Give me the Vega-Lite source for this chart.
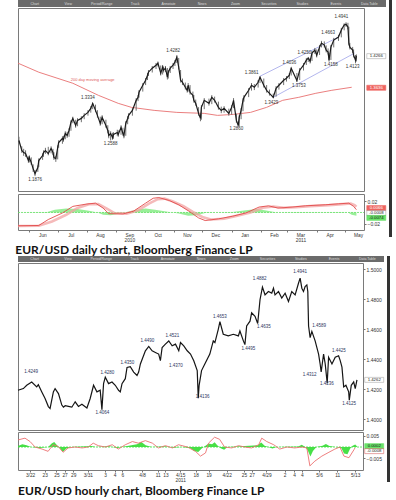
{
"$schema":"https://vega.github.io/schema/vega-lite/v6.json",
"background":"white",
"padding":{"left":12,"top":0,"right":0,"bottom":0},
"config":{"view":{"stroke":"#7a7a7a","strokeWidth":1},"axis":{"labelFont":"Liberation Sans","labelFontSize":5,"labelColor":"#333333","tickColor":"#777777","tickSize":2,"labelPadding":1,"grid":false,"domain":false},"title":{"font":"Lato","fontSize":12,"fontWeight":"bold","color":"#111111"},"text":{"font":"Liberation Sans"}},
"spacing":0,
"vconcat":[
{
"title":{"text":"EUR/USD daily chart, Bloomberg Finance LP","orient":"bottom","anchor":"start","offset":2,"dx":3},
"spacing":0,
"hconcat":[
{"spacing":0,"vconcat":[
{"width":368,"height":7,"data":{"name":"tb"},"view":{"fill":"#6b6b6b","stroke":null},"mark":{"type":"text","fontSize":3.5,"color":"#dddddd"},"encoding":{"x":{"field":"i","type":"ordinal","axis":null},"text":{"field":"t"}}},
{"width":346,"height":183,"view":{"fill":"white"},
"encoding":{
"x":{"field":"d","type":"temporal","title":null,"scale":{"type":"utc","domain":[{"year":2010,"month":5,"date":20,"utc":true},{"year":2011,"month":5,"date":21,"utc":true}]},"axis":null},
"y":{"field":"v","type":"quantitative","title":null,"scale":{"domain":[1.158,1.5225],"nice":false,"zero":false},"axis":{"orient":"right","values":[1.2,1.25,1.3,1.35,1.4,1.45,1.5],"format":".4f"}}},
"layer":[
{"data":{"name":"ma"},"mark":{"type":"line","color":"#e87070","strokeWidth":0.9}},
{"data":{"name":"chan"},"mark":{"type":"line","color":"#a0a3e8","strokeWidth":0.8},"encoding":{"detail":{"field":"s"}}},
{"data":{"name":"daily"},"mark":{"type":"rule","color":"#707070","strokeWidth":1},"encoding":{"y":{"field":"l","type":"quantitative","title":null,"scale":{"domain":[1.158,1.5225],"nice":false,"zero":false},"axis":null},"y2":{"field":"h"}}},
{"data":{"name":"daily"},"mark":{"type":"line","color":"#1c1c1c","strokeWidth":1.2}},
{"data":{"name":"dlab"},"mark":{"type":"text","fontSize":4.5,"color":"#333333"},"encoding":{"text":{"field":"t"}}},
{"data":{"values":[{"d":"2010-08-07","v":1.3786,"t":"200 day moving average"}]},"mark":{"type":"text","fontSize":4,"color":"#e05a5a"},"encoding":{"text":{"field":"t"}}},
{"data":{"name":"pbox1"},"mark":{"type":"tick","orient":"horizontal","size":19,"thickness":5,"strokeWidth":0.6,"clip":false},"encoding":{"color":{"field":"k","type":"nominal","legend":null,"scale":{"domain":["w","r","g","o"],"range":["#ffffff","#e8231d","#2bd62b","#ffffff"]}},"stroke":{"field":"k","type":"nominal","legend":null,"scale":{"domain":["w","r","g","o"],"range":["#8a8a8a","#e8231d","#2bd62b","#c62828"]}}}},
{"data":{"name":"pbox1"},"mark":{"type":"text","fontSize":4.3,"clip":false},"encoding":{"text":{"field":"t"},"fill":{"field":"k","type":"nominal","legend":null,"scale":{"domain":["w","r","g","o"],"range":["#222222","#ffffff","#111111","#222222"]}}}}
]},
{"width":346,"height":36,"view":{"fill":"white"},
"encoding":{
"x":{"field":"d","type":"temporal","title":null,"scale":{"type":"utc","domain":[{"year":2010,"month":5,"date":20,"utc":true},{"year":2011,"month":5,"date":21,"utc":true}]},"axis":{"tickCount":{"interval":"month","step":1},"format":"%b","labelOffset":13,"labelOverlap":false,"labelBound":false,"labelFlush":false,"labelPadding":0,"labelFontSize":4.8,"labelLineHeight":5.4,"labelExpr":"utcmonth(datum.value)==8 && utcyear(datum.value)==2010 ? ['Sep','2010'] : (utcmonth(datum.value)==2 && utcyear(datum.value)==2011 ? ['Mar','2011'] : datum.label)"}},
"y":{"field":"v","type":"quantitative","title":null,"scale":{"domain":[-0.031,0.0327],"nice":false,"zero":false},"axis":{"orient":"right","values":[-0.02,0.02],"format":".2f"}}},
"layer":[
{"data":{"name":"hist"},"mark":{"type":"area","color":"#86ec86","opacity":0.85},"encoding":{"y2":{"datum":0}}},
{"data":{"values":[{"d":"2010-05-20","d2":"2011-05-21","v":0}]},"mark":{"type":"rule","color":"#66dd66","strokeWidth":0.8,"strokeDash":[2,1]},"encoding":{"x2":{"field":"d2"}}},
{"data":{"name":"sig"},"mark":{"type":"line","color":"#f2a3a3","strokeWidth":2.6,"opacity":0.75}},
{"data":{"name":"macd"},"mark":{"type":"line","color":"#e24a4a","strokeWidth":0.9}},
{"data":{"name":"mbox1"},"mark":{"type":"tick","orient":"horizontal","size":19,"thickness":5,"strokeWidth":0.6,"clip":false},"encoding":{"color":{"field":"k","type":"nominal","legend":null,"scale":{"domain":["w","r","g","o"],"range":["#ffffff","#e8231d","#2bd62b","#ffffff"]}},"stroke":{"field":"k","type":"nominal","legend":null,"scale":{"domain":["w","r","g","o"],"range":["#8a8a8a","#e8231d","#2bd62b","#c62828"]}}}},
{"data":{"name":"mbox1"},"mark":{"type":"text","fontSize":4.3,"clip":false},"encoding":{"text":{"field":"t"},"fill":{"field":"k","type":"nominal","legend":null,"scale":{"domain":["w","r","g","o"],"range":["#222222","#ffffff","#111111","#222222"]}}}}
]}
]},
{"width":3,"height":237,"data":{"values":[{"a":1}]},"view":{"fill":"#333333","stroke":null},"mark":{"type":"point","opacity":0},"encoding":{}}
]
},
{
"title":{"text":"EUR/USD hourly chart, Bloomberg Finance LP","orient":"bottom","anchor":"start","offset":3,"dx":3},
"spacing":0,
"hconcat":[
{"spacing":0,"vconcat":[
{"width":366,"height":6,"data":{"name":"tb"},"view":{"fill":"#6b6b6b","stroke":null},"mark":{"type":"text","fontSize":3.5,"color":"#dddddd"},"encoding":{"x":{"field":"i","type":"ordinal","axis":null},"text":{"field":"t"}}},
{"width":345,"height":167,"view":{"fill":"white"},
"encoding":{
"x":{"field":"d","type":"quantitative","title":null,"scale":{"domain":[0,40],"nice":false,"zero":false},"axis":null},
"y":{"field":"v","type":"quantitative","title":null,"scale":{"domain":[1.3928,1.5041],"nice":false,"zero":false},"axis":{"orient":"right","values":[1.4,1.42,1.44,1.46,1.48,1.5],"format":".4f"}}},
"layer":[
{"data":{"name":"hourly"},"mark":{"type":"line","color":"#151515","strokeWidth":1.2}},
{"data":{"name":"hlab"},"mark":{"type":"text","fontSize":4.5,"color":"#2d3560"},"encoding":{"text":{"field":"t"}}},
{"data":{"name":"hbox"},"mark":{"type":"tick","orient":"horizontal","size":19,"thickness":5,"strokeWidth":0.6,"clip":false},"encoding":{"color":{"field":"k","type":"nominal","legend":null,"scale":{"domain":["w","r","g","o"],"range":["#ffffff","#e8231d","#2bd62b","#ffffff"]}},"stroke":{"field":"k","type":"nominal","legend":null,"scale":{"domain":["w","r","g","o"],"range":["#8a8a8a","#e8231d","#2bd62b","#c62828"]}}}},
{"data":{"name":"hbox"},"mark":{"type":"text","fontSize":4.3,"clip":false},"encoding":{"text":{"field":"t"},"fill":{"field":"k","type":"nominal","legend":null,"scale":{"domain":["w","r","g","o"],"range":["#222222","#ffffff","#111111","#222222"]}}}}
]},
{"width":345,"height":38,"view":{"fill":"white"},
"encoding":{
"x":{"field":"d","type":"quantitative","title":null,"scale":{"domain":[0,40],"nice":false,"zero":false},"axis":{"values":[1.4,3.1,4.45,5.4,6.4,8.1,10.1,11.2,12.1,14.4,16.2,17.1,18.8,20.6,22.1,24.2,26.2,27.1,28.8,30.9,32,32.9,34.9,37,39.1],"labelOverlap":false,"labelBound":false,"labelFlush":false,"labelPadding":0,"labelFontSize":4.8,"labelLineHeight":5.4,"labelExpr":"['3/22','23','25','27','29','3/31','3','4','6','4/8','11','13',['4/15','2011'],'18','19','4/22','25','27','4/29','2','4','4','5/6','11','5/13'][indexof([1.4,3.1,4.45,5.4,6.4,8.1,10.1,11.2,12.1,14.4,16.2,17.1,18.8,20.6,22.1,24.2,26.2,27.1,28.8,30.9,32,32.9,34.9,37,39.1], datum.value)]"}},
"y":{"field":"v","type":"quantitative","title":null,"scale":{"domain":[-0.0101,0.0066],"nice":false,"zero":false},"axis":{"orient":"right","values":[-0.005,0.005],"format":".3f"}}},
"layer":[
{"data":{"name":"hhist"},"mark":{"type":"area","color":"#33dd33","opacity":0.9},"encoding":{"y2":{"datum":0}}},
{"data":{"values":[{"d":0,"d2":40,"v":0}]},"mark":{"type":"rule","color":"#44dd44","strokeWidth":0.8,"strokeDash":[2,1]},"encoding":{"x2":{"field":"d2"}}},
{"data":{"name":"hmacd"},"mark":{"type":"line","color":"#ec7070","strokeWidth":0.9}},
{"data":{"name":"ibox"},"mark":{"type":"tick","orient":"horizontal","size":19,"thickness":5,"strokeWidth":0.6,"clip":false},"encoding":{"color":{"field":"k","type":"nominal","legend":null,"scale":{"domain":["w","r","g","o"],"range":["#ffffff","#e8231d","#2bd62b","#ffffff"]}},"stroke":{"field":"k","type":"nominal","legend":null,"scale":{"domain":["w","r","g","o"],"range":["#8a8a8a","#e8231d","#2bd62b","#c62828"]}}}},
{"data":{"name":"ibox"},"mark":{"type":"text","fontSize":4.3,"clip":false},"encoding":{"text":{"field":"t"},"fill":{"field":"k","type":"nominal","legend":null,"scale":{"domain":["w","r","g","o"],"range":["#222222","#ffffff","#111111","#222222"]}}}}
]}
]},
{"width":3,"height":226,"data":{"values":[{"a":1}]},"view":{"fill":"#333333","stroke":null},"mark":{"type":"point","opacity":0},"encoding":{}}
]
}
],
"datasets":{
"tb":[{"i":1,"t":"Chart"},{"i":2,"t":"View"},{"i":3,"t":"Period/Range"},{"i":4,"t":"Track"},{"i":5,"t":"Annotate"},{"i":6,"t":"News"},{"i":7,"t":"Zoom"},{"i":8,"t":"Securities"},{"i":9,"t":"Studies"},{"i":10,"t":"Events"},{"i":11,"t":"Data Table"}],
"daily":[
{"d":"2010-05-21","v":1.2586,"h":1.2660,"l":1.2510},
{"d":"2010-05-24","v":1.2386,"h":1.2470,"l":1.2340},
{"d":"2010-05-26","v":1.2346,"h":1.2420,"l":1.2280},
{"d":"2010-05-28","v":1.2326,"h":1.2390,"l":1.2260},
{"d":"2010-05-31","v":1.2186,"h":1.2270,"l":1.2140},
{"d":"2010-06-01","v":1.2246,"h":1.2290,"l":1.2150},
{"d":"2010-06-03","v":1.2146,"h":1.2250,"l":1.2100},
{"d":"2010-06-05","v":1.2026,"h":1.2110,"l":1.1960},
{"d":"2010-06-07","v":1.1926,"h":1.2000,"l":1.1876},
{"d":"2010-06-10","v":1.2046,"h":1.2090,"l":1.1960},
{"d":"2010-06-11","v":1.2186,"h":1.2230,"l":1.2060},
{"d":"2010-06-15","v":1.2286,"h":1.2330,"l":1.2200},
{"d":"2010-06-16","v":1.2346,"h":1.2390,"l":1.2260},
{"d":"2010-06-18","v":1.2386,"h":1.2440,"l":1.2320},
{"d":"2010-06-21","v":1.2326,"h":1.2460,"l":1.2290},
{"d":"2010-06-24","v":1.2426,"h":1.2470,"l":1.2330},
{"d":"2010-06-26","v":1.2346,"h":1.2420,"l":1.2300},
{"d":"2010-06-27","v":1.2246,"h":1.2350,"l":1.2200},
{"d":"2010-06-29","v":1.2226,"h":1.2280,"l":1.2160},
{"d":"2010-07-01","v":1.2446,"h":1.2490,"l":1.2210},
{"d":"2010-07-02","v":1.2546,"h":1.2590,"l":1.2440},
{"d":"2010-07-06","v":1.2626,"h":1.2670,"l":1.2520},
{"d":"2010-07-07","v":1.2606,"h":1.2680,"l":1.2560},
{"d":"2010-07-09","v":1.2726,"h":1.2770,"l":1.2610},
{"d":"2010-07-11","v":1.2686,"h":1.2760,"l":1.2640},
{"d":"2010-07-13","v":1.2786,"h":1.2830,"l":1.2660},
{"d":"2010-07-15","v":1.2946,"h":1.2990,"l":1.2780},
{"d":"2010-07-17","v":1.3026,"h":1.3060,"l":1.2930},
{"d":"2010-07-20","v":1.2886,"h":1.3000,"l":1.2840},
{"d":"2010-07-22","v":1.2986,"h":1.3030,"l":1.2870},
{"d":"2010-07-26","v":1.3026,"h":1.3070,"l":1.2950},
{"d":"2010-07-29","v":1.3086,"h":1.3130,"l":1.3010},
{"d":"2010-08-02","v":1.3146,"h":1.3190,"l":1.3080},
{"d":"2010-08-05","v":1.3226,"h":1.3270,"l":1.3140},
{"d":"2010-08-07","v":1.3326,"h":1.3334,"l":1.3210},
{"d":"2010-08-10","v":1.3186,"h":1.3300,"l":1.3150},
{"d":"2010-08-12","v":1.3086,"h":1.3190,"l":1.3040},
{"d":"2010-08-15","v":1.2926,"h":1.3060,"l":1.2880},
{"d":"2010-08-17","v":1.3046,"h":1.3090,"l":1.2910},
{"d":"2010-08-21","v":1.2886,"h":1.3000,"l":1.2840},
{"d":"2010-08-23","v":1.2786,"h":1.2890,"l":1.2730},
{"d":"2010-08-24","v":1.2686,"h":1.2790,"l":1.2630},
{"d":"2010-08-26","v":1.2726,"h":1.2770,"l":1.2588},
{"d":"2010-08-28","v":1.2646,"h":1.2740,"l":1.2600},
{"d":"2010-08-29","v":1.2706,"h":1.2750,"l":1.2620},
{"d":"2010-09-02","v":1.2746,"h":1.2800,"l":1.2680},
{"d":"2010-09-03","v":1.2706,"h":1.2790,"l":1.2660},
{"d":"2010-09-06","v":1.2846,"h":1.2890,"l":1.2700},
{"d":"2010-09-08","v":1.2726,"h":1.2840,"l":1.2680},
{"d":"2010-09-09","v":1.2686,"h":1.2750,"l":1.2630},
{"d":"2010-09-11","v":1.2926,"h":1.2970,"l":1.2680},
{"d":"2010-09-13","v":1.3026,"h":1.3070,"l":1.2910},
{"d":"2010-09-14","v":1.3086,"h":1.3130,"l":1.3010},
{"d":"2010-09-18","v":1.3186,"h":1.3230,"l":1.3080},
{"d":"2010-09-22","v":1.3386,"h":1.3430,"l":1.3180},
{"d":"2010-09-24","v":1.3446,"h":1.3490,"l":1.3370},
{"d":"2010-09-25","v":1.3546,"h":1.3590,"l":1.3440},
{"d":"2010-09-29","v":1.3686,"h":1.3730,"l":1.3560},
{"d":"2010-10-02","v":1.3786,"h":1.3830,"l":1.3690},
{"d":"2010-10-04","v":1.3886,"h":1.3930,"l":1.3790},
{"d":"2010-10-05","v":1.3946,"h":1.3990,"l":1.3870},
{"d":"2010-10-09","v":1.4026,"h":1.4070,"l":1.3940},
{"d":"2010-10-13","v":1.4086,"h":1.4130,"l":1.4010},
{"d":"2010-10-15","v":1.4126,"h":1.4160,"l":1.4060},
{"d":"2010-10-18","v":1.3926,"h":1.4080,"l":1.3880},
{"d":"2010-10-20","v":1.4046,"h":1.4090,"l":1.3900},
{"d":"2010-10-21","v":1.3986,"h":1.4060,"l":1.3940},
{"d":"2010-10-23","v":1.4026,"h":1.4070,"l":1.3950},
{"d":"2010-10-25","v":1.3846,"h":1.4030,"l":1.3800},
{"d":"2010-10-26","v":1.3946,"h":1.3990,"l":1.3820},
{"d":"2010-10-28","v":1.4026,"h":1.4070,"l":1.3930},
{"d":"2010-10-31","v":1.4086,"h":1.4130,"l":1.4010},
{"d":"2010-11-02","v":1.4146,"h":1.4190,"l":1.4070},
{"d":"2010-11-04","v":1.4246,"h":1.4282,"l":1.4130},
{"d":"2010-11-06","v":1.4046,"h":1.4230,"l":1.4000},
{"d":"2010-11-08","v":1.3786,"h":1.3990,"l":1.3740},
{"d":"2010-11-10","v":1.3746,"h":1.3820,"l":1.3690},
{"d":"2010-11-13","v":1.3646,"h":1.3740,"l":1.3600},
{"d":"2010-11-15","v":1.3586,"h":1.3670,"l":1.3540},
{"d":"2010-11-16","v":1.3686,"h":1.3730,"l":1.3560},
{"d":"2010-11-18","v":1.3546,"h":1.3690,"l":1.3500},
{"d":"2010-11-21","v":1.3486,"h":1.3560,"l":1.3440},
{"d":"2010-11-22","v":1.3386,"h":1.3490,"l":1.3340},
{"d":"2010-11-24","v":1.3326,"h":1.3400,"l":1.3280},
{"d":"2010-11-27","v":1.3126,"h":1.3250,"l":1.3080},
{"d":"2010-11-29","v":1.3026,"h":1.3120,"l":1.2969},
{"d":"2010-11-30","v":1.3246,"h":1.3290,"l":1.3000},
{"d":"2010-12-03","v":1.3386,"h":1.3430,"l":1.3210},
{"d":"2010-12-08","v":1.3326,"h":1.3420,"l":1.3280},
{"d":"2010-12-11","v":1.3446,"h":1.3490,"l":1.3310},
{"d":"2010-12-14","v":1.3386,"h":1.3460,"l":1.3340},
{"d":"2010-12-18","v":1.3246,"h":1.3360,"l":1.3200},
{"d":"2010-12-21","v":1.3186,"h":1.3260,"l":1.3130},
{"d":"2010-12-24","v":1.3226,"h":1.3270,"l":1.3140},
{"d":"2010-12-29","v":1.3126,"h":1.3220,"l":1.3080},
{"d":"2011-01-01","v":1.3246,"h":1.3290,"l":1.3100},
{"d":"2011-01-03","v":1.3386,"h":1.3430,"l":1.3230},
{"d":"2011-01-06","v":1.2986,"h":1.3120,"l":1.2940},
{"d":"2011-01-08","v":1.2886,"h":1.2960,"l":1.2860},
{"d":"2011-01-09","v":1.3046,"h":1.3090,"l":1.2870},
{"d":"2011-01-11","v":1.3186,"h":1.3230,"l":1.3010},
{"d":"2011-01-13","v":1.3386,"h":1.3430,"l":1.3170},
{"d":"2011-01-14","v":1.3446,"h":1.3490,"l":1.3360},
{"d":"2011-01-19","v":1.3586,"h":1.3630,"l":1.3450},
{"d":"2011-01-22","v":1.3686,"h":1.3730,"l":1.3580},
{"d":"2011-01-25","v":1.3646,"h":1.3710,"l":1.3590},
{"d":"2011-01-29","v":1.3746,"h":1.3790,"l":1.3640},
{"d":"2011-01-31","v":1.3846,"h":1.3861,"l":1.3730},
{"d":"2011-02-04","v":1.3686,"h":1.3820,"l":1.3640},
{"d":"2011-02-07","v":1.3586,"h":1.3690,"l":1.3540},
{"d":"2011-02-10","v":1.3526,"h":1.3600,"l":1.3480},
{"d":"2011-02-14","v":1.3446,"h":1.3520,"l":1.3429},
{"d":"2011-02-17","v":1.3626,"h":1.3670,"l":1.3460},
{"d":"2011-02-20","v":1.3686,"h":1.3730,"l":1.3600},
{"d":"2011-02-25","v":1.3786,"h":1.3830,"l":1.3690},
{"d":"2011-02-28","v":1.3826,"h":1.3870,"l":1.3760},
{"d":"2011-03-03","v":1.3886,"h":1.3930,"l":1.3810},
{"d":"2011-03-05","v":1.4026,"h":1.4036,"l":1.3880},
{"d":"2011-03-11","v":1.3780,"h":1.3930,"l":1.3753},
{"d":"2011-03-14","v":1.3986,"h":1.4030,"l":1.3790},
{"d":"2011-03-18","v":1.4086,"h":1.4130,"l":1.3980},
{"d":"2011-03-21","v":1.4186,"h":1.4230,"l":1.4090},
{"d":"2011-03-23","v":1.4226,"h":1.4250,"l":1.4150},
{"d":"2011-03-25","v":1.4166,"h":1.4230,"l":1.4120},
{"d":"2011-03-27","v":1.4326,"h":1.4370,"l":1.4170},
{"d":"2011-03-30","v":1.4386,"h":1.4430,"l":1.4310},
{"d":"2011-04-01","v":1.4286,"h":1.4400,"l":1.4240},
{"d":"2011-04-04","v":1.4446,"h":1.4490,"l":1.4290},
{"d":"2011-04-06","v":1.4526,"h":1.4570,"l":1.4440},
{"d":"2011-04-09","v":1.4486,"h":1.4560,"l":1.4440},
{"d":"2011-04-11","v":1.4386,"h":1.4480,"l":1.4340},
{"d":"2011-04-13","v":1.4346,"h":1.4420,"l":1.4300},
{"d":"2011-04-14","v":1.4186,"h":1.4330,"l":1.4158},
{"d":"2011-04-16","v":1.4446,"h":1.4490,"l":1.4190},
{"d":"2011-04-19","v":1.4586,"h":1.4630,"l":1.4440},
{"d":"2011-04-24","v":1.4646,"h":1.4690,"l":1.4570},
{"d":"2011-04-27","v":1.4786,"h":1.4830,"l":1.4640},
{"d":"2011-04-30","v":1.4886,"h":1.4920,"l":1.4780},
{"d":"2011-05-02","v":1.4900,"h":1.4941,"l":1.4850},
{"d":"2011-05-04","v":1.4846,"h":1.4930,"l":1.4800},
{"d":"2011-05-05","v":1.4526,"h":1.4850,"l":1.4480},
{"d":"2011-05-06","v":1.4446,"h":1.4530,"l":1.4400},
{"d":"2011-05-09","v":1.4386,"h":1.4450,"l":1.4330},
{"d":"2011-05-10","v":1.4286,"h":1.4400,"l":1.4240},
{"d":"2011-05-12","v":1.4186,"h":1.4290,"l":1.4123},
{"d":"2011-05-13","v":1.4266,"h":1.4300,"l":1.4160}
],
"ma":[{"d":"2010-05-20","v":1.4126},{"d":"2010-06-11","v":1.3946},{"d":"2010-07-17","v":1.3726},{"d":"2010-08-13","v":1.3486},{"d":"2010-09-03","v":1.3326},{"d":"2010-09-17","v":1.3246},{"d":"2010-10-11","v":1.3186},{"d":"2010-11-04","v":1.3146},{"d":"2010-12-03","v":1.3126},{"d":"2010-12-17","v":1.3086},{"d":"2011-01-03","v":1.3106},{"d":"2011-01-21","v":1.3146},{"d":"2011-02-07","v":1.3246},{"d":"2011-02-24","v":1.3386},{"d":"2011-03-13","v":1.3446},{"d":"2011-03-31","v":1.3526},{"d":"2011-04-17","v":1.3586},{"d":"2011-05-08","v":1.3646}],
"chan":[{"s":"a","d":"2011-01-31","v":1.3866},{"s":"a","d":"2011-04-24","v":1.4646},{"s":"b","d":"2011-02-14","v":1.3446},{"s":"b","d":"2011-05-11","v":1.4326}],
"dlab":[{"d":"2010-06-07","v":1.1806,"t":"1.1876"},{"d":"2010-08-02","v":1.3426,"t":"1.3334"},{"d":"2010-08-26","v":1.2526,"t":"1.2588"},{"d":"2010-10-31","v":1.4366,"t":"1.4282"},{"d":"2011-01-06","v":1.2806,"t":"1.2860"},{"d":"2011-01-22","v":1.3926,"t":"1.3861"},{"d":"2011-02-12","v":1.3326,"t":"1.3429"},{"d":"2011-03-03","v":1.4126,"t":"1.4036"},{"d":"2011-03-13","v":1.3666,"t":"1.3753"},{"d":"2011-03-19","v":1.4326,"t":"1.4250"},{"d":"2011-04-13","v":1.4726,"t":"1.4663"},{"d":"2011-04-16","v":1.4086,"t":"1.4158"},{"d":"2011-04-27","v":1.5046,"t":"1.4941"},{"d":"2011-05-09","v":1.4046,"t":"1.4123"}],
"pbox1":[{"d":"2011-06-03","v":1.4266,"t":"1.4266","k":"w"},{"d":"2011-06-03","v":1.3636,"t":"1.3636","k":"r"}],
"mbox1":[{"d":"2011-06-03","v":0.0078,"t":"0.0066","k":"r"},{"d":"2011-06-03","v":-0.0009,"t":"-0.0008","k":"w"},{"d":"2011-06-03","v":-0.0096,"t":"-0.0074","k":"g"}],
"macd":[{"d":"2010-05-20","v":-0.0235},{"d":"2010-06-11","v":-0.0230},{"d":"2010-06-21","v":-0.0125},{"d":"2010-07-06","v":-0.0009},{"d":"2010-07-17","v":0.0108},{"d":"2010-07-31","v":0.0148},{"d":"2010-08-10","v":0.0165},{"d":"2010-08-18","v":0.0078},{"d":"2010-08-24","v":-0.0021},{"d":"2010-09-08","v":-0.0026},{"d":"2010-09-19","v":0.0021},{"d":"2010-10-02","v":0.0165},{"d":"2010-10-10","v":0.0252},{"d":"2010-10-16","v":0.0264},{"d":"2010-10-27","v":0.0212},{"d":"2010-11-06","v":0.0136},{"d":"2010-11-17","v":0.0021},{"d":"2010-11-27","v":-0.0096},{"d":"2010-12-04","v":-0.0143},{"d":"2010-12-18","v":-0.0113},{"d":"2011-01-02","v":-0.0066},{"d":"2011-01-16","v":-0.0009},{"d":"2011-01-30","v":0.0096},{"d":"2011-02-09","v":0.0118},{"d":"2011-02-19","v":0.0078},{"d":"2011-03-06","v":0.0096},{"d":"2011-03-20","v":0.0118},{"d":"2011-04-10","v":0.0136},{"d":"2011-04-24","v":0.0153},{"d":"2011-05-05","v":0.0165},{"d":"2011-05-10","v":0.0108},{"d":"2011-05-13","v":0.0049}],
"sig":[{"d":"2010-05-20","v":-0.0240},{"d":"2010-06-11","v":-0.0235},{"d":"2010-06-25","v":-0.0160},{"d":"2010-07-10","v":-0.0040},{"d":"2010-07-22","v":0.0080},{"d":"2010-08-03","v":0.0145},{"d":"2010-08-13","v":0.0150},{"d":"2010-08-22","v":0.0070},{"d":"2010-08-30","v":-0.0010},{"d":"2010-09-12","v":-0.0020},{"d":"2010-09-24","v":0.0040},{"d":"2010-10-06","v":0.0160},{"d":"2010-10-15","v":0.0235},{"d":"2010-10-22","v":0.0245},{"d":"2010-10-31","v":0.0195},{"d":"2010-11-11","v":0.0110},{"d":"2010-11-21","v":0.0010},{"d":"2010-12-01","v":-0.0080},{"d":"2010-12-10","v":-0.0125},{"d":"2010-12-24","v":-0.0110},{"d":"2011-01-06","v":-0.0060},{"d":"2011-01-21","v":0.0000},{"d":"2011-02-03","v":0.0085},{"d":"2011-02-14","v":0.0105},{"d":"2011-02-25","v":0.0085},{"d":"2011-03-10","v":0.0092},{"d":"2011-03-25","v":0.0112},{"d":"2011-04-14","v":0.0130},{"d":"2011-04-28","v":0.0148},{"d":"2011-05-07","v":0.0158},{"d":"2011-05-11","v":0.0130},{"d":"2011-05-13","v":0.0100}],
"hist":[{"d":"2010-05-20","v":0},{"d":"2010-06-20","v":0.001},{"d":"2010-06-28","v":0.005},{"d":"2010-07-10","v":0.007},{"d":"2010-07-22","v":0.006},{"d":"2010-08-03","v":0.003},{"d":"2010-08-12","v":0},{"d":"2010-08-18","v":-0.004},{"d":"2010-08-26","v":-0.005},{"d":"2010-09-05","v":-0.002},{"d":"2010-09-12","v":0.001},{"d":"2010-09-22","v":0.005},{"d":"2010-10-02","v":0.007},{"d":"2010-10-12","v":0.005},{"d":"2010-10-22","v":0.002},{"d":"2010-10-30","v":0},{"d":"2010-11-06","v":-0.002},{"d":"2010-11-16","v":-0.006},{"d":"2010-11-25","v":-0.005},{"d":"2010-12-04","v":-0.001},{"d":"2010-12-15","v":0},{"d":"2011-01-02","v":0.001},{"d":"2011-01-16","v":0.004},{"d":"2011-01-28","v":0.006},{"d":"2011-02-08","v":0.003},{"d":"2011-02-18","v":0},{"d":"2011-03-10","v":0.001},{"d":"2011-04-10","v":0.0005},{"d":"2011-04-28","v":0.001},{"d":"2011-05-04","v":0},{"d":"2011-05-08","v":-0.004},{"d":"2011-05-13","v":-0.006}],
"hourly":[{"d":0,"v":1.4193},{"d":0.62,"v":1.4204},{"d":1.01,"v":1.4226},{"d":1.59,"v":1.4248},{"d":2.17,"v":1.4215},{"d":2.36,"v":1.4230},{"d":2.76,"v":1.4182},{"d":3.14,"v":1.4138},{"d":3.52,"v":1.4084},{"d":3.72,"v":1.4072},{"d":4.1,"v":1.4182},{"d":4.3,"v":1.4204},{"d":4.69,"v":1.4171},{"d":5.08,"v":1.4094},{"d":5.27,"v":1.4080},{"d":5.47,"v":1.4090},{"d":5.85,"v":1.4085},{"d":6.24,"v":1.4080},{"d":6.63,"v":1.4116},{"d":7.01,"v":1.4085},{"d":7.41,"v":1.4100},{"d":7.99,"v":1.4075},{"d":8.37,"v":1.4138},{"d":8.76,"v":1.4226},{"d":9.15,"v":1.4182},{"d":9.53,"v":1.4193},{"d":9.73,"v":1.4064},{"d":9.92,"v":1.4237},{"d":10.12,"v":1.4280},{"d":10.5,"v":1.4237},{"d":10.9,"v":1.4248},{"d":11.28,"v":1.4226},{"d":11.66,"v":1.4193},{"d":11.86,"v":1.4182},{"d":12.06,"v":1.4237},{"d":12.44,"v":1.4270},{"d":12.64,"v":1.4345},{"d":13.02,"v":1.4350},{"d":13.41,"v":1.4314},{"d":13.8,"v":1.4291},{"d":13.99,"v":1.4314},{"d":14.19,"v":1.4368},{"d":14.77,"v":1.4456},{"d":15.16,"v":1.4485},{"d":15.55,"v":1.4456},{"d":15.93,"v":1.4445},{"d":16.31,"v":1.4434},{"d":16.51,"v":1.4390},{"d":16.71,"v":1.4478},{"d":17.09,"v":1.4500},{"d":17.48,"v":1.4521},{"d":17.87,"v":1.4489},{"d":18.26,"v":1.4500},{"d":18.64,"v":1.4456},{"d":18.84,"v":1.4511},{"d":19.22,"v":1.4489},{"d":19.62,"v":1.4456},{"d":20,"v":1.4434},{"d":20.38,"v":1.4390},{"d":20.78,"v":1.4324},{"d":20.9,"v":1.4140},{"d":21.0,"v":1.4226},{"d":21.28,"v":1.4324},{"d":21.66,"v":1.4368},{"d":22.24,"v":1.4434},{"d":22.64,"v":1.4522},{"d":22.83,"v":1.4511},{"d":23.22,"v":1.4599},{"d":23.41,"v":1.4650},{"d":23.8,"v":1.4566},{"d":24.38,"v":1.4555},{"d":24.97,"v":1.4566},{"d":25.55,"v":1.4555},{"d":25.73,"v":1.4588},{"d":26.13,"v":1.4522},{"d":26.31,"v":1.4497},{"d":26.51,"v":1.4621},{"d":26.9,"v":1.4653},{"d":27.09,"v":1.4709},{"d":27.48,"v":1.4686},{"d":27.79,"v":1.4638},{"d":28.06,"v":1.4796},{"d":28.34,"v":1.4880},{"d":28.64,"v":1.4829},{"d":29.03,"v":1.4851},{"d":29.42,"v":1.4840},{"d":29.62,"v":1.4873},{"d":29.8,"v":1.4829},{"d":30.2,"v":1.4851},{"d":30.58,"v":1.4807},{"d":30.97,"v":1.4840},{"d":31.36,"v":1.4785},{"d":31.74,"v":1.4851},{"d":32.13,"v":1.4829},{"d":32.52,"v":1.4906},{"d":32.71,"v":1.4940},{"d":32.91,"v":1.4873},{"d":33.1,"v":1.4851},{"d":33.29,"v":1.4884},{"d":33.49,"v":1.4895},{"d":33.6,"v":1.4851},{"d":33.69,"v":1.4621},{"d":33.87,"v":1.4544},{"d":34.07,"v":1.4585},{"d":34.45,"v":1.4522},{"d":34.85,"v":1.4434},{"d":35.03,"v":1.4368},{"d":35.15,"v":1.4315},{"d":35.43,"v":1.4434},{"d":35.62,"v":1.4368},{"d":35.85,"v":1.4240},{"d":36.01,"v":1.4413},{"d":36.4,"v":1.4368},{"d":36.78,"v":1.4413},{"d":37.17,"v":1.4423},{"d":37.36,"v":1.4390},{"d":37.56,"v":1.4347},{"d":37.76,"v":1.4215},{"d":38.02,"v":1.4226},{"d":38.34,"v":1.4182},{"d":38.41,"v":1.4127},{"d":38.64,"v":1.4226},{"d":38.92,"v":1.4248},{"d":39.1,"v":1.4204},{"d":39.3,"v":1.4262}],
"hlab":[{"d":1.51,"v":1.4316,"t":"1.4249"},{"d":9.77,"v":1.4039,"t":"1.4064"},{"d":10.35,"v":1.4309,"t":"1.4280"},{"d":12.67,"v":1.4375,"t":"1.4350"},{"d":15.0,"v":1.4520,"t":"1.4490"},{"d":17.9,"v":1.4553,"t":"1.4521"},{"d":18.3,"v":1.4355,"t":"1.4370"},{"d":21.4,"v":1.4145,"t":"1.4136"},{"d":23.4,"v":1.4678,"t":"1.4653"},{"d":26.7,"v":1.4467,"t":"1.4495"},{"d":28.5,"v":1.4612,"t":"1.4635"},{"d":28.0,"v":1.4934,"t":"1.4882"},{"d":32.7,"v":1.4980,"t":"1.4941"},{"d":34.9,"v":1.4619,"t":"1.4589"},{"d":33.8,"v":1.4296,"t":"1.4312"},{"d":35.8,"v":1.4237,"t":"1.4236"},{"d":37.2,"v":1.4454,"t":"1.4425"},{"d":38.4,"v":1.4099,"t":"1.4125"}],
"hbox":[{"d":41.3,"v":1.4262,"t":"1.4262","k":"w"}],
"ibox":[{"d":41.3,"v":0.0004,"t":"0.0002","k":"g"},{"d":41.3,"v":-0.0018,"t":"-0.0008","k":"o"}],
"hmacd":[{"d":0,"v":0.0031},{"d":0.81,"v":0.0039},{"d":1.4,"v":0.0024},{"d":1.98,"v":0},{"d":2.79,"v":-0.0009},{"d":3.49,"v":-0.0019},{"d":4.07,"v":0.0010},{"d":4.65,"v":0.0003},{"d":5.23,"v":-0.0023},{"d":5.81,"v":-0.0004},{"d":6.63,"v":0},{"d":7.44,"v":-0.0004},{"d":8.14,"v":0},{"d":8.72,"v":0.0017},{"d":9.3,"v":0.0006},{"d":10.12,"v":0},{"d":10.93,"v":0.0010},{"d":11.63,"v":-0.0009},{"d":12.44,"v":0.0010},{"d":13.26,"v":0.0024},{"d":13.95,"v":0.0017},{"d":14.77,"v":0.0028},{"d":15.58,"v":0.0017},{"d":16.28,"v":-0.0004},{"d":17.09,"v":0.0006},{"d":17.91,"v":-0.0004},{"d":18.6,"v":0.0010},{"d":19.65,"v":0},{"d":20.58,"v":-0.0019},{"d":21.16,"v":-0.0040},{"d":21.74,"v":-0.0026},{"d":22.09,"v":0.0017},{"d":22.79,"v":0.0043},{"d":23.37,"v":0.0034},{"d":23.95,"v":0},{"d":24.77,"v":-0.0004},{"d":25.58,"v":0.0006},{"d":26.28,"v":0},{"d":27.09,"v":-0.0004},{"d":27.91,"v":0.0010},{"d":28.26,"v":0.0039},{"d":28.84,"v":0.0024},{"d":29.65,"v":0.0010},{"d":30.35,"v":-0.0009},{"d":31.16,"v":0},{"d":32.09,"v":-0.0004},{"d":32.91,"v":0},{"d":33.49,"v":-0.0004},{"d":33.84,"v":-0.0083},{"d":34.42,"v":-0.0062},{"d":35.23,"v":-0.0040},{"d":36.05,"v":-0.0023},{"d":36.74,"v":-0.0009},{"d":37.33,"v":0},{"d":37.79,"v":-0.0040},{"d":38.37,"v":-0.0047},{"d":38.95,"v":-0.0012},{"d":39.07,"v":-0.0004}],
"hhist":[{"d":0,"v":0.0005},{"d":0.5,"v":0.0012},{"d":1.0,"v":0.0008},{"d":1.5,"v":0},{"d":2.5,"v":-0.0004},{"d":3.5,"v":0},{"d":3.9,"v":0.0015},{"d":4.2,"v":0.0022},{"d":4.6,"v":0.0005},{"d":4.9,"v":-0.0008},{"d":5.2,"v":-0.0022},{"d":5.6,"v":-0.0006},{"d":6.2,"v":0},{"d":8.5,"v":0.0004},{"d":9,"v":0},{"d":10.5,"v":0.0003},{"d":11.5,"v":-0.0004},{"d":12.5,"v":0.0003},{"d":13.8,"v":0.0012},{"d":14.3,"v":0.0022},{"d":14.8,"v":0.0008},{"d":15.5,"v":0},{"d":17,"v":0.0003},{"d":18,"v":-0.0003},{"d":19,"v":0},{"d":20,"v":-0.0005},{"d":20.4,"v":-0.0018},{"d":20.9,"v":-0.0022},{"d":21.3,"v":-0.0006},{"d":21.7,"v":0.0005},{"d":22.1,"v":0.0016},{"d":22.5,"v":0.0012},{"d":22.8,"v":0.0021},{"d":23.1,"v":0.0008},{"d":23.5,"v":-0.0005},{"d":23.9,"v":-0.0012},{"d":24.3,"v":0},{"d":27.8,"v":0.0008},{"d":28.2,"v":0.002},{"d":28.6,"v":0.0006},{"d":29.5,"v":-0.0006},{"d":30,"v":0},{"d":32.5,"v":0.0002},{"d":32.9,"v":0.001},{"d":33.3,"v":0},{"d":33.6,"v":-0.0015},{"d":33.9,"v":-0.0042},{"d":34.2,"v":-0.0018},{"d":34.6,"v":0},{"d":35.3,"v":0.0006},{"d":35.7,"v":0.0013},{"d":36.1,"v":0.0004},{"d":36.8,"v":0},{"d":37.5,"v":-0.0005},{"d":37.8,"v":-0.0028},{"d":38.2,"v":-0.0032},{"d":38.5,"v":-0.0008},{"d":38.8,"v":0.0006},{"d":39.1,"v":0.0011},{"d":39.3,"v":0.0003}]
}
}
